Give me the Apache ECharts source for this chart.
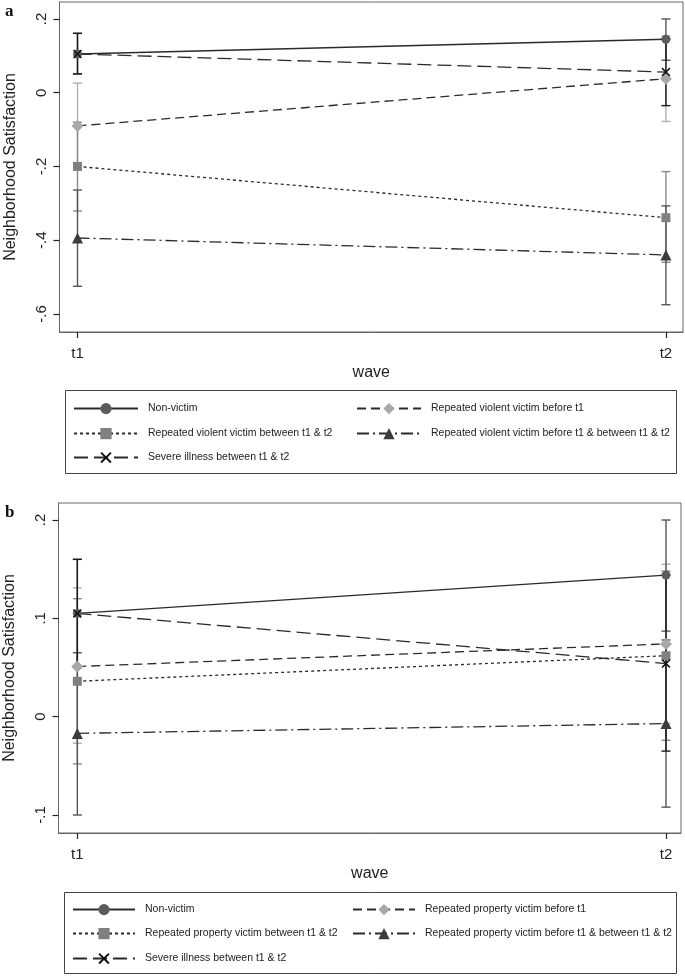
<!DOCTYPE html>
<html>
<head>
<meta charset="utf-8">
<script src="https://cdn.jsdelivr.net/npm/echarts@6/dist/echarts.min.js"></script>
<style>html,body{margin:0;padding:0;background:#fff}#c{width:685px;height:976px}</style>
</head>
<body>
<div id="c"></div>
<script>
// ---------- data ----------
const waves = ['t1', 't2'];
const yTickValsA = [-0.6, -0.4, -0.2, 0, 0.2];
const yTickLabelsA = ['-.6', '-.4', '-.2', '0', '.2'];
const yTickValsB = [-0.1, 0, 0.1, 0.2];
const yTickLabelsB = ['-.1', '0', '.1', '.2'];

const namesA = ['Non-victim', 'Repeated violent victim before t1', 'Repeated violent victim between t1 & t2',
  'Repeated violent victim before t1 & between t1 & t2', 'Severe illness between t1 & t2'];
const namesB = ['Non-victim', 'Repeated property victim before t1', 'Repeated property victim between t1 & t2',
  'Repeated property victim before t1 & between t1 & t2', 'Severe illness between t1 & t2'];

// panel a: means at t1,t2 and CI [low, high] at t1,t2
const nonVictimA = [0.105, 0.145];
const nonVictimCiA = [[0.051, 0.161], [0.088, 0.200]];
const violentBeforeA = [-0.090, 0.038];
const violentBeforeCiA = [[-0.205, 0.026], [-0.078, 0.154]];
const violentBetweenA = [-0.200, -0.339];
const violentBetweenCiA = [[-0.321, -0.080], [-0.460, -0.214]];
const violentBothA = [-0.394, -0.440];
const violentBothCiA = [[-0.525, -0.264], [-0.575, -0.307]];
const illnessA = [0.105, 0.056];
const illnessCiA = [[0.051, 0.161], [-0.035, 0.146]];

// panel b
const nonVictimB = [0.105, 0.144];
const nonVictimCiB = [[0.050, 0.160], [0.087, 0.200]];
const propBeforeB = [0.051, 0.074];
const propBeforeCiB = [[-0.027, 0.131], [-0.007, 0.155]];
const propBetweenB = [0.036, 0.062];
const propBetweenCiB = [[-0.048, 0.120], [-0.024, 0.148]];
const propBothB = [-0.017, -0.007];
const propBothCiB = [[-0.100, 0.065], [-0.092, 0.078]];
const illnessB = [0.105, 0.054];
const illnessCiB = [[0.050, 0.160], [-0.035, 0.144]];

// ---------- styles ----------
const FONT = '"Liberation Sans", Arial, Helvetica, sans-serif';
const LINE = '#2a2a2a';
const xMark = 'path://M0,1.2L1.2,0L5,3.8L8.8,0L10,1.2L6.2,5L10,8.8L8.8,10L5,6.2L1.2,10L0,8.8L3.8,5Z';
const styles = [
  {symbol: 'circle', size: 9, fill: '#5c5c5c', dash: 'solid', err: '#555555'},
  {symbol: 'diamond', size: 12, fill: '#a8a8a8', dash: [9, 5], err: '#b0b0b0'},
  {symbol: 'rect', size: 9, fill: '#808080', dash: [3, 3], err: '#8a8a8a'},
  {symbol: 'triangle', size: 11, fill: '#3c3c3c', dash: [12, 4, 2, 4], err: '#555555'},
  {symbol: xMark, size: 9, fill: '#111111', dash: [14, 6], err: '#1a1a1a'}
];

function errRender(color) {
  return function (params, api) {
    const x = api.value(0), lo = api.value(1), hi = api.value(2);
    const a = api.coord([x, lo]), b = api.coord([x, hi]);
    const w = 4.5;
    const st = {stroke: color, lineWidth: 1.4};
    return {type: 'group', children: [
      {type: 'line', shape: {x1: a[0], y1: a[1], x2: b[0], y2: b[1]}, style: st},
      {type: 'line', shape: {x1: a[0] - w, y1: a[1], x2: a[0] + w, y2: a[1]}, style: st},
      {type: 'line', shape: {x1: b[0] - w, y1: b[1], x2: b[0] + w, y2: b[1]}, style: st}
    ]};
  };
}

function buildSeries(names, means, cis, gi) {
  const out = [];
  [1, 2, 3, 0, 4].forEach(function (k) {
    out.push({
      type: 'custom', xAxisIndex: gi, yAxisIndex: gi, z: 1, silent: true,
      renderItem: errRender(styles[k].err),
      encode: {x: 0, y: [1, 2]},
      data: cis[k].map(function (c, i) { return [i, c[0], c[1]]; })
    });
  });
  [1, 2, 3, 0, 4].forEach(function (k) {
    const s = styles[k];
    out.push({
      type: 'line', name: names[k], xAxisIndex: gi, yAxisIndex: gi, z: 3,
      symbol: s.symbol, symbolSize: s.size, showSymbol: true,
      lineStyle: {color: LINE, width: 1.3, type: s.dash},
      itemStyle: {color: s.fill, borderWidth: 0},
      emphasis: {disabled: true},
      data: means[k].map(function (v, i) { return [i, v]; })
    });
  });
  return out;
}

function makeGrid(left, top, right, height) {
  return {left: left, top: top, right: right, height: height, show: true,
    borderColor: '#666', borderWidth: 1, backgroundColor: 'transparent',
    containLabel: false, outerBoundsMode: 'none'};
}
function makeX(gi, min, max) {
  return {type: 'value', gridIndex: gi, min: min, max: max, position: 'bottom',
    name: 'wave', nameLocation: 'middle', nameGap: 33,
    nameTextStyle: {fontFamily: FONT, fontSize: 16, color: '#222'},
    axisLine: {show: true, onZero: false, lineStyle: {color: '#666', width: 1}}, splitLine: {show: false},
    axisTick: {show: true, inside: false, length: 6, customValues: [0, 1], lineStyle: {color: '#222', width: 1.2}},
    axisLabel: {customValues: [0, 1], margin: 14, fontFamily: FONT, fontSize: 15, color: '#222',
      formatter: function (v) { return waves[Math.round(v)]; }}
  };
}
function makeY(gi, min, max, vals, labels) {
  return {type: 'value', gridIndex: gi, min: min, max: max, position: 'left',
    name: 'Neighborhood Satisfaction', nameLocation: 'middle', nameGap: 41,
    nameTextStyle: {fontFamily: FONT, fontSize: 16, color: '#222'},
    axisLine: {show: true, onZero: false, lineStyle: {color: '#666', width: 1}}, splitLine: {show: false},
    axisTick: {show: true, inside: false, length: 6, customValues: vals, lineStyle: {color: '#222', width: 1.2}},
    axisLabel: {customValues: vals, rotate: 90, margin: 10, fontFamily: FONT, fontSize: 15, color: '#222',
      formatter: function (v) {
        let idx = 0, best = 1e9;
        vals.forEach(function (t, i) { if (Math.abs(t - v) < best) { best = Math.abs(t - v); idx = i; } });
        return labels[idx];
      }}
  };
}

function legendItem(name, left, cy, w) {
  return {data: [name], left: left, top: cy - 7, orient: 'horizontal',
    itemWidth: w, itemHeight: 14, itemGap: 0, padding: 0, selectedMode: false,
    textStyle: {fontFamily: FONT, fontSize: 10.5, color: '#222', padding: [0, 0, 0, 5]}};
}

const legends = [];
// panel a legend
legends.push(legendItem(namesA[0], 73, 410, 64));
legends.push(legendItem(namesA[1], 356, 410, 64));
legends.push(legendItem(namesA[2], 73, 435, 64));
legends.push(legendItem(namesA[3], 356, 435, 64));
legends.push(legendItem(namesA[4], 73, 459, 64));
// panel b legend
legends.push(legendItem(namesB[0], 72, 911, 62));
legends.push(legendItem(namesB[1], 352, 911, 62));
legends.push(legendItem(namesB[2], 72, 935, 62));
legends.push(legendItem(namesB[3], 352, 935, 62));
legends.push(legendItem(namesB[4], 72, 960, 62));

const seriesA = buildSeries(namesA,
  [nonVictimA, violentBeforeA, violentBetweenA, violentBothA, illnessA],
  [nonVictimCiA, violentBeforeCiA, violentBetweenCiA, violentBothCiA, illnessCiA], 0);
const seriesB = buildSeries(namesB,
  [nonVictimB, propBeforeB, propBetweenB, propBothB, illnessB],
  [nonVictimCiB, propBeforeCiB, propBetweenCiB, propBothCiB, illnessCiB], 1);

const chart = echarts.init(document.getElementById('c'), null, {renderer: 'canvas'});
chart.setOption({
  animation: false,
  backgroundColor: '#fff',
  textStyle: {fontFamily: FONT},
  grid: [makeGrid(59.5, 2, 2, 330), makeGrid(58.5, 503, 4, 330)],
  xAxis: [makeX(0, -0.0306, 1.029), makeX(1, -0.032, 1.0255)],
  yAxis: [makeY(0, -0.649, 0.246, yTickValsA, yTickLabelsA), makeY(1, -0.1183, 0.2173, yTickValsB, yTickLabelsB)],
  legend: legends,
  series: seriesA.concat(seriesB),
  graphic: [
    {type: 'rect', shape: {x: 65.5, y: 390.5, width: 611, height: 83}, style: {fill: 'none', stroke: '#444', lineWidth: 1}, z: -1},
    {type: 'rect', shape: {x: 64.5, y: 892.5, width: 612, height: 81}, style: {fill: 'none', stroke: '#444', lineWidth: 1}, z: -1},
    {type: 'text', left: 5, top: 3, style: {text: 'a', font: 'bold 17px "Liberation Serif", "Times New Roman", serif', fill: '#111'}},
    {type: 'text', left: 5, top: 504, style: {text: 'b', font: 'bold 17px "Liberation Serif", "Times New Roman", serif', fill: '#111'}}
  ]
});
</script>
</body>
</html>
